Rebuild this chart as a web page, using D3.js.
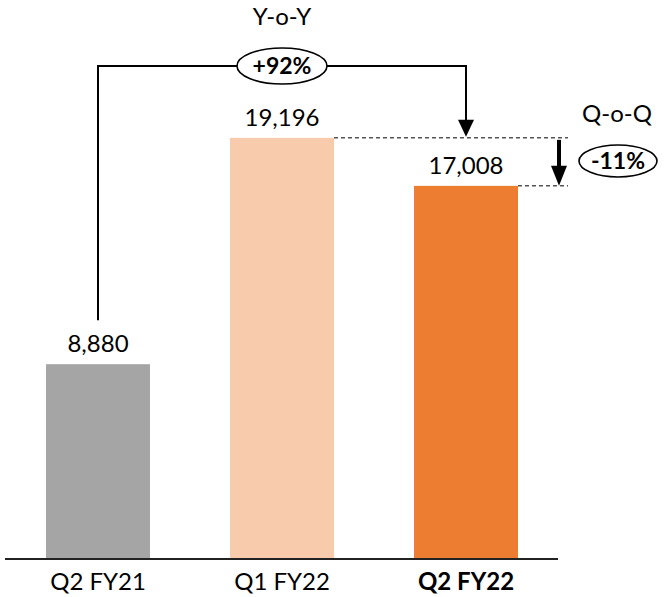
<!DOCTYPE html>
<html><head><meta charset="utf-8">
<script src="https://cdn.jsdelivr.net/npm/d3@7"></script>
<style>body{margin:0;background:#fff}svg{display:block}text{font-family:Lato,"Open Sans",sans-serif}</style>
</head><body><svg id="c" width="671" height="597"></svg>
<script>
const categories = ["Q2 FY21", "Q1 FY22", "Q2 FY22"];
const values = [8880, 19196, 17008];
const valueLabels = ["8,880", "19,196", "17,008"];
const colors = ["#A5A5A5", "#F8CBAD", "#ED7D31"];
const yoyLabel = "+92%";
const qoqLabel = "-11%";

const svg = d3.select("#c");
const x = d3.scaleBand().domain(categories).range([6, 558]).paddingInner(0.435).paddingOuter(0.2175);
const y = d3.scaleLinear().domain([0, 25480]).range([559, 0]);
const cx = c => x(c) + x.bandwidth() / 2;

svg.selectAll("rect.bar").data(categories).enter().append("rect")
  .attr("x", d => x(d)).attr("width", x.bandwidth())
  .attr("y", (d, i) => y(values[i])).attr("height", (d, i) => y(0) - y(values[i]))
  .attr("fill", (d, i) => colors[i]);

// axis
const axis = svg.append("g").attr("transform", `translate(0,${y(0)})`)
  .call(d3.axisBottom(x).tickSize(0).tickPadding(14));
axis.select(".domain").attr("d", "M5,0H558").attr("stroke", "#222").attr("stroke-width", 2);
axis.selectAll(".tick text").attr("font-size", 24).attr("fill", "#000")
  .attr("font-weight", (d, i) => i === 2 ? "bold" : "normal")
  .attr("font-family", "Lato");

svg.selectAll("text.val").data(categories).enter().append("text")
  .attr("x", d => cx(d)).attr("y", (d, i) => y(values[i]) - 12)
  .attr("text-anchor", "middle").attr("font-size", 24).text((d, i) => valueLabels[i]);

// Y-o-Y bracket
const topY = 66;
const x0 = cx(categories[0]), x2 = cx(categories[2]);
const tipY = y(values[1]) - 1;
svg.append("path").attr("d", `M${x0},${y(values[0]) - 44}V${topY}H${x2}V${tipY - 16}`)
  .attr("fill", "none").attr("stroke", "#000").attr("stroke-width", 2);
svg.append("path").attr("d", `M${x2 - 8},${tipY - 17}L${x2 + 8},${tipY - 17}L${x2},${tipY}Z`).attr("fill", "#000");
const ex = 282;
svg.append("ellipse").attr("cx", ex).attr("cy", topY).attr("rx", 45).attr("ry", 18)
  .attr("fill", "#fff").attr("stroke", "#000").attr("stroke-width", 1.6);
svg.append("text").attr("x", ex).attr("y", topY + 8).attr("text-anchor", "middle")
  .attr("font-size", 23).attr("font-weight", "bold").text(yoyLabel);
svg.append("text").attr("x", ex).attr("y", 25).attr("text-anchor", "middle")
  .attr("font-size", 24).text("Y-o-Y");

// Q-o-Q
const xr1 = x(categories[1]) + x.bandwidth(), xr2 = x(categories[2]) + x.bandwidth();
[[xr1, y(values[1])], [xr2, y(values[2])]].forEach(([a, b]) => {
  svg.append("line").attr("x1", a).attr("x2", 568).attr("y1", b).attr("y2", b)
    .attr("stroke", "#555").attr("stroke-width", 1.5).attr("stroke-dasharray", "4,3");
});
const ax = 559, a1 = y(values[1]) + 2, a2 = y(values[2]);
svg.append("line").attr("x1", ax).attr("x2", ax).attr("y1", a1).attr("y2", a2 - 18)
  .attr("stroke", "#000").attr("stroke-width", 4);
svg.append("path").attr("d", `M${ax - 8},${a2 - 20}L${ax + 8},${a2 - 20}L${ax},${a2}Z`).attr("fill", "#000");
svg.append("text").attr("x", 617).attr("y", 122).attr("text-anchor", "middle")
  .attr("font-size", 24).text("Q-o-Q");
svg.append("ellipse").attr("cx", 618).attr("cy", 161).attr("rx", 39).attr("ry", 16)
  .attr("fill", "#fff").attr("stroke", "#000").attr("stroke-width", 1.6);
svg.append("text").attr("x", 618).attr("y", 169).attr("text-anchor", "middle")
  .attr("font-size", 23).attr("font-weight", "bold").text(qoqLabel);
</script></body></html>
